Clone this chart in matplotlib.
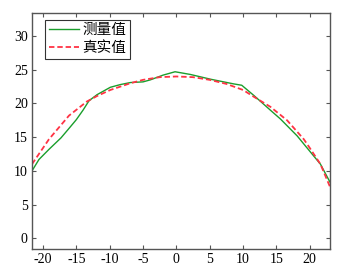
import matplotlib
matplotlib.use("Agg")
import matplotlib.pyplot as plt

plt.rcParams['font.family'] = ['Liberation Serif', 'Noto Sans CJK SC']
plt.rcParams['axes.unicode_minus'] = False

meas_x = [-21.65, -20.6, -19.1, -17.3, -16.1, -15.0, -14.0, -13.1, -11.9, -9.9, -8.4, -6.9, -5.0, -3.9, -2.0, -0.2, 2.1, 5.1, 8.6, 9.8, 11.6, 14.1, 15.6, 18.1, 20.6, 21.6, 23.05]
meas_y = [10.0, 11.7, 13.2, 14.9, 16.3, 17.6, 19.0, 20.4, 21.3, 22.4, 22.8, 23.1, 23.2, 23.5, 24.2, 24.7, 24.3, 23.6, 22.9, 22.7, 21.2, 19.0, 17.7, 15.2, 12.2, 11.0, 8.3]

true_x = [-21.65, -19.1, -16.1, -13.4, -11.9, -9.9, -6.9, -5.0, -2.5, 0.0, 2.5, 5.0, 7.5, 10.0, 11.6, 14.1, 16.6, 19.1, 20.0, 21.6, 23.05]
true_y = [11.0, 14.7, 18.2, 20.3, 21.1, 22.0, 23.0, 23.5, 23.9, 24.0, 23.9, 23.5, 22.9, 22.0, 21.0, 19.5, 17.5, 14.7, 13.4, 11.0, 7.6]

labels = ['测量值', '真实值']
xticks = [-20, -15, -10, -5, 0, 5, 10, 15, 20]
yticks = [0, 5, 10, 15, 20, 25, 30]

fig = plt.figure(figsize=(3.4, 2.72), dpi=100)
ax = fig.add_axes([0.094, 0.085, 0.877, 0.867])
ax.plot(meas_x, meas_y, color='#1a9e2c', lw=1.0, label=labels[0])
ax.plot(true_x, true_y, color='#ff3344', lw=1.3, ls=(0, (3, 1.6)), label=labels[1])
ax.set_xlim(-21.65, 23.05)
ax.set_ylim(-1.55, 33.4)
ax.set_xticks(xticks)
ax.set_yticks(yticks)
ax.tick_params(direction='in', top=True, right=True, labelsize=10, length=3,
               color='#555555', width=0.8, pad=3)
for s in ax.spines.values():
    s.set_color('#555555')
    s.set_linewidth(1.0)
leg = ax.legend(loc='upper left', bbox_to_anchor=(0.044, 0.969), fontsize=10.5,
                frameon=True, fancybox=False, edgecolor='black', handlelength=2.05,
                borderpad=0.25, labelspacing=0.3, handletextpad=0.25, borderaxespad=0)
leg.get_frame().set_linewidth(0.8)
fig.savefig('out.png', dpi=100)
